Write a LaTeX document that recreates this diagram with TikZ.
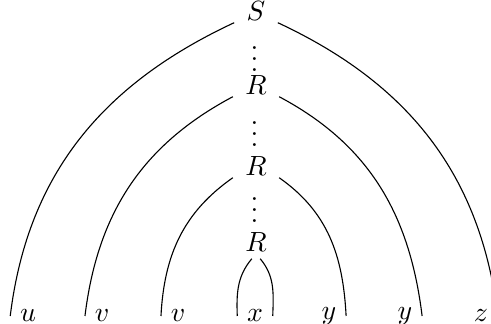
\documentclass[tikz,border=0pt]{standalone}
\begin{document}
\begin{tikzpicture}[x=0.36pt,y=-0.36pt,
  inner/.style={inner xsep=4.3pt,inner ysep=0.6pt},
  tip/.style={inner xsep=3.33pt,inner ysep=2.4pt},
  leaf/.style={inner sep=3.33pt},
  dotmark/.style={inner sep=0pt},
  arc/.style={line width=0.4pt}]
\useasboundingbox (0,0) rectangle (491,324);
\node[inner] (S) at (256,11) {$S$};
\node[dotmark] (d1a) at (254.5,48) {.};
\node[dotmark] (d1b) at (254.5,59) {.};
\node[dotmark] (d1c) at (254.5,70) {.};
\node[inner] (R1) at (256,85) {$R$};
\node[dotmark] (d2a) at (254.5,123) {.};
\node[dotmark] (d2b) at (254.5,134) {.};
\node[dotmark] (d2c) at (254.5,145) {.};
\node[inner] (R2) at (256,166) {$R$};
\node[dotmark] (d3a) at (254.5,199) {.};
\node[dotmark] (d3b) at (254.5,210) {.};
\node[dotmark] (d3c) at (254.5,221) {.};
\node[tip] (R3) at (256,242) {$R$};
\node[leaf] (u) at (28,316) {$u$};
\node[leaf] (v1) at (102,316) {$v$};
\node[leaf] (v2) at (178,316) {$v$};
\node[leaf] (x) at (255,316) {$x$};
\node[leaf] (y1) at (329,316) {$y$};
\node[leaf] (y2) at (405,316) {$y$};
\node[leaf] (z) at (481,316) {$z$};
\draw[arc] (S.south west) to[out=205,in=83] (u.west);
\draw[arc] (S.south east) to[out=-25,in=97] (z.east);
\draw[arc] (R1.south west) to[out=208,in=83] (v1.west);
\draw[arc] (R1.south east) to[out=-28,in=97] (y2.east);
\draw[arc] (R2.south west) to[out=215,in=87] (v2.west);
\draw[arc] (R2.south east) to[out=-35,in=93] (y1.east);
\draw[arc] (R3.-104) to[out=230,in=92] (x.west);
\draw[arc] (R3.-76) to[out=-50,in=88] (x.east);
\end{tikzpicture}
\end{document}
